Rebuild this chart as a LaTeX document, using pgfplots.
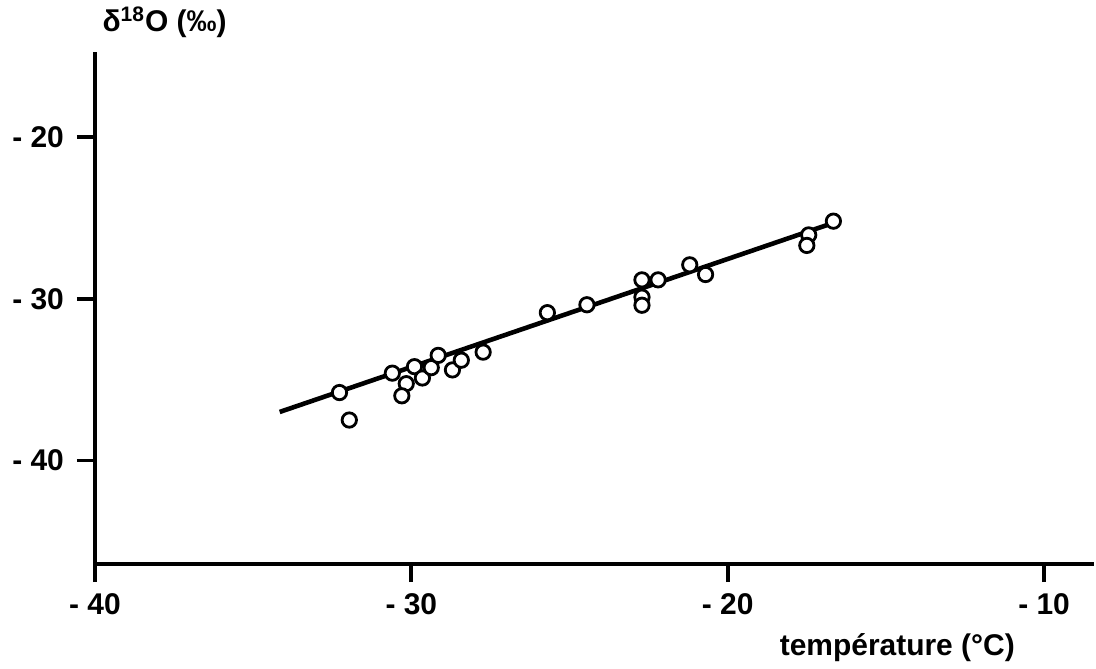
\documentclass[border=0pt]{standalone}
\usepackage{pgfplots}
\pgfplotsset{compat=1.18}
\usepackage{fontspec}
\setmainfont{Liberation Sans}

\begin{document}
\begin{tikzpicture}
\begin{axis}[
  width=500.5pt,
  height=256.5pt,
  scale only axis,
  xmin=-40, xmax=-8.42,
  ymin=-46.42, ymax=-14.75,
  axis lines*=left,
  axis line style={line width=1.9pt},
  clip=false,
  xtick={-40,-30,-20,-10},
  xticklabels={- 40,- 30,- 20,- 10},
  ytick={-40,-30,-20},
  yticklabels={- 40,- 30,- 20},
  tick align=outside,
  major tick length=9pt,
  tick style={line width=1.9pt, black},
  ticklabel style={font=\fontsize{15}{18}\selectfont\bfseries},
  xticklabel style={yshift=-2pt},
  yticklabel style={xshift=-3pt},
  /pgf/number format/assume math mode=true,
]
% regression line
\addplot[black, line width=2.3pt, mark=none] coordinates {(-34.16,-37.0) (-16.8,-25.4)};
% measurements
\addplot[only marks, mark=*, mark size=3.6pt,
  mark options={fill=white, draw=black, line width=1.4pt}] coordinates {
  (-32.27,-35.8) (-31.96,-37.5) (-30.6,-34.6) (-30.16,-35.25) (-30.3,-36.0)
  (-29.9,-34.2) (-29.65,-34.9) (-29.37,-34.26) (-29.15,-33.5) (-28.7,-34.4)
  (-28.42,-33.8) (-27.73,-33.3) (-25.7,-30.86) (-24.45,-30.37) (-22.71,-28.83)
  (-22.71,-29.9) (-22.71,-30.4) (-22.2,-28.83) (-21.2,-27.9) (-20.7,-28.5)
  (-17.44,-26.05) (-17.5,-26.7) (-16.66,-25.2)
};
\node[font=\fontsize{15}{18}\selectfont\bfseries] at (axis cs:-37.8,-12.9) {δ\textsuperscript{18}O (‰)};
\node[font=\fontsize{15}{18}\selectfont\bfseries] at (axis cs:-14.64,-51.6) {température (°C)};
\path (axis cs:-43,-11.85) rectangle (axis cs:-8.42,-52.72);
\end{axis}
\end{tikzpicture}
\end{document}
